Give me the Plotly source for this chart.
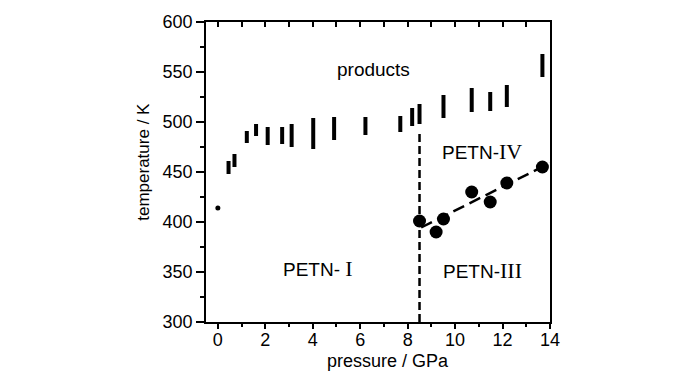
import plotly.graph_objects as go

# Decomposition temperature ranges (vertical bars)
bar_p = [0.45, 0.70, 1.22, 1.61, 2.10, 2.71, 3.11, 4.02, 4.90, 6.22, 7.69, 8.19, 8.50, 9.51, 10.70, 11.48, 12.18, 13.68]
bar_lo = [448, 455, 479, 486, 477, 478, 475, 473, 482, 487, 490, 496, 498, 504, 510, 511, 515, 545]
bar_hi = [461, 468, 491, 498, 495, 495, 498, 504, 505, 505, 506, 514, 518, 527, 534, 530, 537, 568]

# Single point at ambient pressure
dot_p = [0.0]
dot_t = [414]

# PETN-III / PETN-IV transition points
trans_p = [8.50, 9.20, 9.51, 10.70, 11.48, 12.18, 13.68]
trans_t = [401, 390, 403, 430, 420, 439, 455]

# Boundary lines
fit_p = [8.57, 14.0]
fit_t = [394.5, 459]
vert_p = [8.5, 8.5]
vert_t = [300, 492]

# Region labels
ROM = "<span style='font-family:Liberation Serif;font-size:22px'>%s</span>"
label_text = ["products", "PETN-" + ROM % "IV", "PETN- " + ROM % "I", "PETN-" + ROM % "III"]
label_p = [6.58, 11.13, 4.23, 11.16]
label_t = [553, 471, 354, 352]

x_ticks = [0, 2, 4, 6, 8, 10, 12, 14]
x_minor = [1, 3, 5, 7, 9, 11, 13]
y_ticks = [300, 350, 400, 450, 500, 550, 600]
y_minor = [325, 375, 425, 475, 525, 575]

bx, by = [], []
for p, lo, hi in zip(bar_p, bar_lo, bar_hi):
    bx += [p, p, None]
    by += [lo, hi, None]

SANS = "Liberation Sans, Arial, sans-serif"

fig = go.Figure()
fig.add_trace(go.Scatter(x=bx, y=by, mode="lines", line=dict(color="black", width=4), showlegend=False))
fig.add_trace(go.Scatter(x=vert_p, y=vert_t, mode="lines", line=dict(color="black", width=2.5, dash="8px,4px"), showlegend=False))
fig.add_trace(go.Scatter(x=fit_p, y=fit_t, mode="lines", line=dict(color="black", width=2.5, dash="12px,6px"), showlegend=False))
fig.add_trace(go.Scatter(x=dot_p, y=dot_t, mode="markers", marker=dict(color="black", size=5), showlegend=False))
fig.add_trace(go.Scatter(x=trans_p, y=trans_t, mode="markers", marker=dict(color="black", size=13), showlegend=False))
# invisible trace on top axis for inward ticks
fig.add_trace(go.Scatter(x=[0], y=[300], xaxis="x2", mode="markers", marker=dict(opacity=0), showlegend=False, hoverinfo="skip"))

for t, p, tt in zip(label_text, label_p, label_t):
    fig.add_annotation(x=p, y=tt, text=t, showarrow=False, xanchor="center", yanchor="middle",
                       font=dict(size=19, color="black", family=SANS))

# axis titles (paper coords relative to plot area: x 206..550 px, y 322..15 px)
fig.add_annotation(x=(387.5 - 206) / 344, y=(322 - 362) / 307, xref="paper", yref="paper",
                   xanchor="center", yanchor="middle",
                   text="pressure / GPa", showarrow=False, font=dict(size=18, family=SANS, color="black"))
fig.add_annotation(x=(144 - 206) / 344, y=(322 - 158) / 307, xref="paper", yref="paper",
                   xanchor="center", yanchor="middle",
                   text="temperature / K", textangle=-90, showarrow=False, font=dict(size=17, family=SANS, color="black"))

fig.update_layout(
    width=700, height=375,
    margin=dict(l=206, r=150, t=15, b=53),
    plot_bgcolor="white", paper_bgcolor="white",
    font=dict(family=SANS, size=18, color="black"),
    xaxis=dict(range=[-0.5, 14], tickmode="array", tickvals=x_ticks,
               ticks="outside", ticklen=5, tickwidth=1.5, tickcolor="black", ticklabelstandoff=-4,
               minor=dict(tickvals=x_minor, ticks="outside", ticklen=3, tickwidth=1.5, tickcolor="black"),
               showline=True, linecolor="black", linewidth=1.5, mirror=True,
               showgrid=False, zeroline=False),
    xaxis2=dict(range=[-0.5, 14], overlaying="x", side="top", anchor="y",
                tickmode="array", tickvals=x_ticks + x_minor, ticks="inside", ticklen=5,
                tickwidth=1.5, tickcolor="black", showticklabels=False,
                showline=False, showgrid=False, zeroline=False),
    yaxis=dict(range=[300, 600], tickmode="array", tickvals=y_ticks,
               ticks="outside", ticklen=8, tickwidth=1.5, tickcolor="black",
               minor=dict(tickvals=y_minor, ticks="outside", ticklen=4, tickwidth=1.5, tickcolor="black"),
               showline=True, linecolor="black", linewidth=1.5, mirror=True,
               showgrid=False, zeroline=False),
)
fig.write_html("out.html", config={"displayModeBar": False},
               post_script="document.body.style.margin='0';")
